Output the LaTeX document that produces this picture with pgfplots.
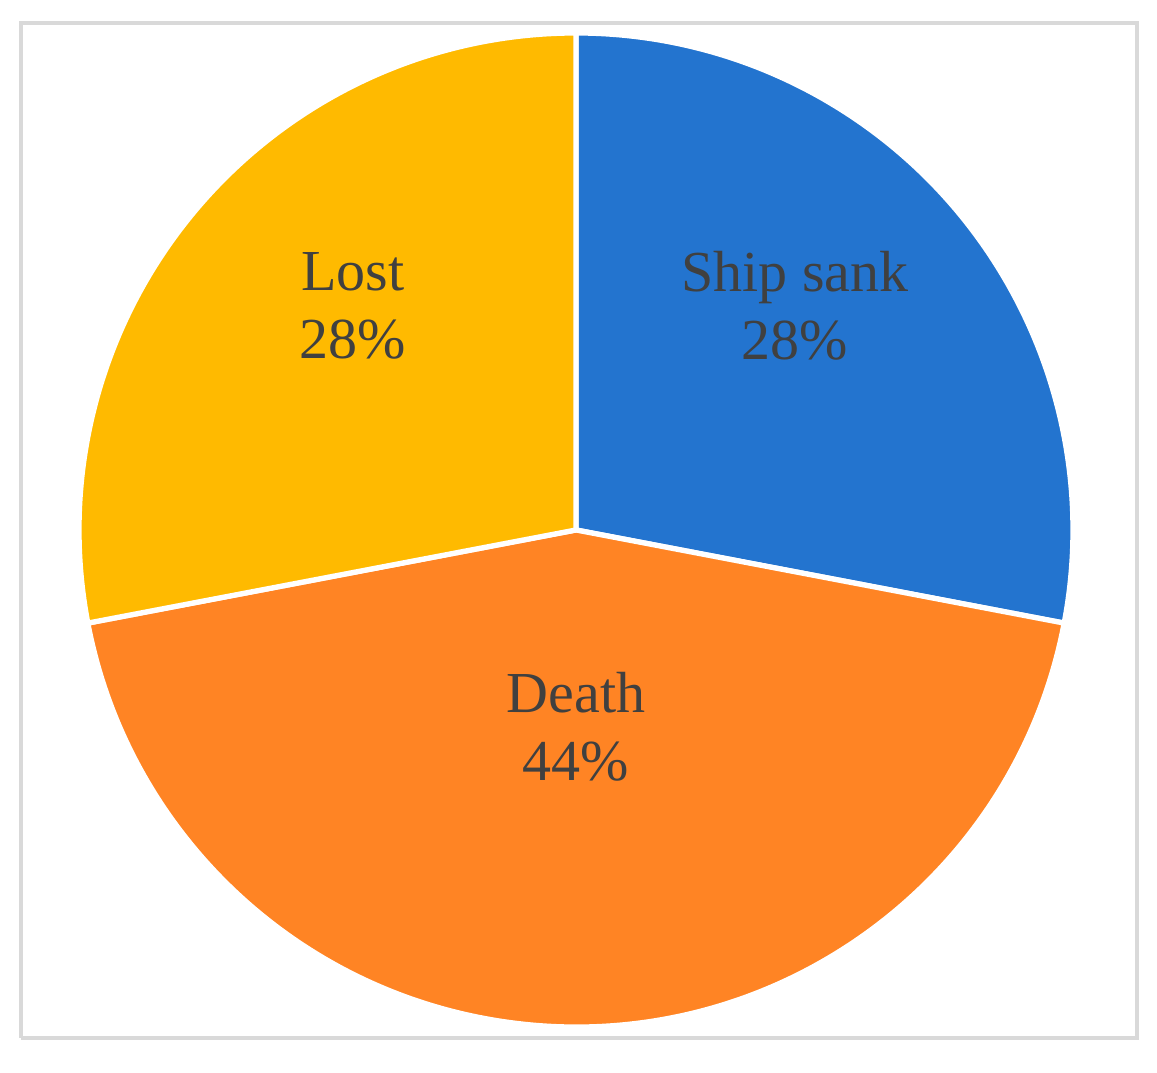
\documentclass[border=0pt]{standalone}
\usepackage{fontspec}
\setmainfont{Liberation Serif}
\usepackage{pgfplots}
\usepackage{pgfplotstable}
\pgfplotsset{compat=1.18}

\definecolor{shipblue}{HTML}{2374CF}
\definecolor{deathorange}{HTML}{FF8424}
\definecolor{lostyellow}{HTML}{FFBA00}
\definecolor{labelgray}{HTML}{404040}
\definecolor{framegray}{HTML}{D9D9D9}

% share in percent, label position in axis units (pixels of the reference)
\pgfplotstableread{
label       pct  col          lx   ly
{Ship sank} 28   shipblue     795  754
Death       44   deathorange  576  333
Lost        28   lostyellow   353  754
}\piedata

\begin{document}
\begin{tikzpicture}
\begin{axis}[
    width=11.57cm, height=10.6cm,
    scale only axis,
    xmin=0, xmax=1157,
    ymin=0, ymax=1060,
    hide axis,
    clip=false,
]
% keep the whole canvas in the bounding box
\addplot[draw=none] coordinates {(0,0) (1157,1060)};
% outer frame
\addplot[framegray, line width=1.2pt] coordinates {
    (21,22) (1137,22) (1137,1037) (21,1037) (21,22)
};

\def\startangle{90}
\pgfplotsforeachungrouped \i in {0,1,2} {
    \pgfplotstablegetelem{\i}{pct}\of\piedata \let\pct=\pgfplotsretval
    \pgfplotstablegetelem{\i}{col}\of\piedata \let\col=\pgfplotsretval
    \pgfmathsetmacro\endangle{\startangle-3.6*\pct}
    \edef\cmd{%
        \noexpand\fill[\col, draw=white, line width=1.5pt, line join=round]
            (axis cs:576,530) -- ++(\startangle:4.97cm)
            arc[start angle=\startangle, end angle=\endangle, radius=4.97cm] -- cycle;
    }
    \cmd
    \let\startangle=\endangle
}
\pgfplotsforeachungrouped \i in {0,1,2} {
    \pgfplotstablegetelem{\i}{pct}\of\piedata \let\pct=\pgfplotsretval
    \pgfplotstablegetelem{\i}{label}\of\piedata \let\lab=\pgfplotsretval
    \pgfplotstablegetelem{\i}{lx}\of\piedata \let\lx=\pgfplotsretval
    \pgfplotstablegetelem{\i}{ly}\of\piedata \let\ly=\pgfplotsretval
    \edef\cmd{%
        \noexpand\node[labelgray, align=center,
            font=\noexpand\fontsize{16.5}{19.5}\noexpand\selectfont]
            at (axis cs:\lx,\ly) {\lab\noexpand\\\pct\noexpand\%};
    }
    \cmd
}
\end{axis}
\end{tikzpicture}
\end{document}
